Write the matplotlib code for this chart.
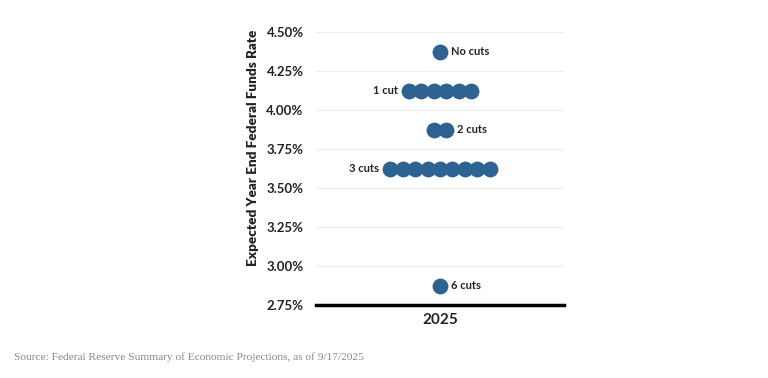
import matplotlib
matplotlib.use("Agg")
import matplotlib.pyplot as plt
import numpy as np

rates = [4.375, 4.125, 3.875, 3.625, 2.875]
counts = [1, 6, 2, 9, 1]
labels = ["No cuts", "1 cut", "2 cuts", "3 cuts", "6 cuts"]
label_side = ["right", "left", "right", "left", "right"]
yticks = [2.75, 3.00, 3.25, 3.50, 3.75, 4.00, 4.25, 4.50]

color = "#2E6391"
plt.rcParams['font.family'] = ['Lato', 'DejaVu Sans']

fig = plt.figure(figsize=(7.68, 3.78), dpi=100)
ax = fig.add_axes([0.4115, 0.1931, 0.3229, 0.7222])

spacing = 0.1
for r, n, lab, side in zip(rates, counts, labels, label_side):
    xs = (np.arange(n) - (n - 1) / 2) * spacing
    ax.scatter(xs, [r] * n, s=130, color=color, zorder=3, linewidths=0)
    if side == "right":
        ax.annotate(lab, (xs[-1], r), xytext=(8, 0), textcoords="offset points",
                    ha="left", va="center", fontsize=8, fontweight="bold", color="#222222")
    else:
        ax.annotate(lab, (xs[0], r), xytext=(-8, 0), textcoords="offset points",
                    ha="right", va="center", fontsize=8, fontweight="bold", color="#222222")

ax.set_xlim(-1.0, 1.0)
ax.set_ylim(2.75, 4.5)
ax.set_yticks(yticks)
ax.set_yticklabels([f"{t:.2f}%" for t in yticks], fontsize=9.5, fontweight="bold", color="#222222")
ax.set_xticks([0])
ax.set_xticklabels(["2025"], fontsize=11, fontweight="bold", color="#222222")
ax.tick_params(axis="both", length=0)
ax.tick_params(axis="y", pad=9)
ax.tick_params(axis="x", pad=6)
ax.grid(axis="y", color="#eeeeee", linewidth=0.8, zorder=0)
for s in ["top", "right", "left"]:
    ax.spines[s].set_visible(False)
ax.spines["bottom"].set_linewidth(2.5)
ax.spines["bottom"].set_color("black")
ax.spines["bottom"].set_zorder(4)

fig.text(253 / 768, 1 - 148 / 378, "Expected Year End Federal Funds Rate", rotation=90,
         ha="center", va="center", fontsize=9.7, fontweight="heavy", color="#222222")

fig.text(0.018, 0.047, "Source: Federal Reserve Summary of Economic Projections, as of 9/17/2025",
         fontsize=8.2, color="#888888", family=["Liberation Serif"])

fig.savefig("out.png", dpi=100)
